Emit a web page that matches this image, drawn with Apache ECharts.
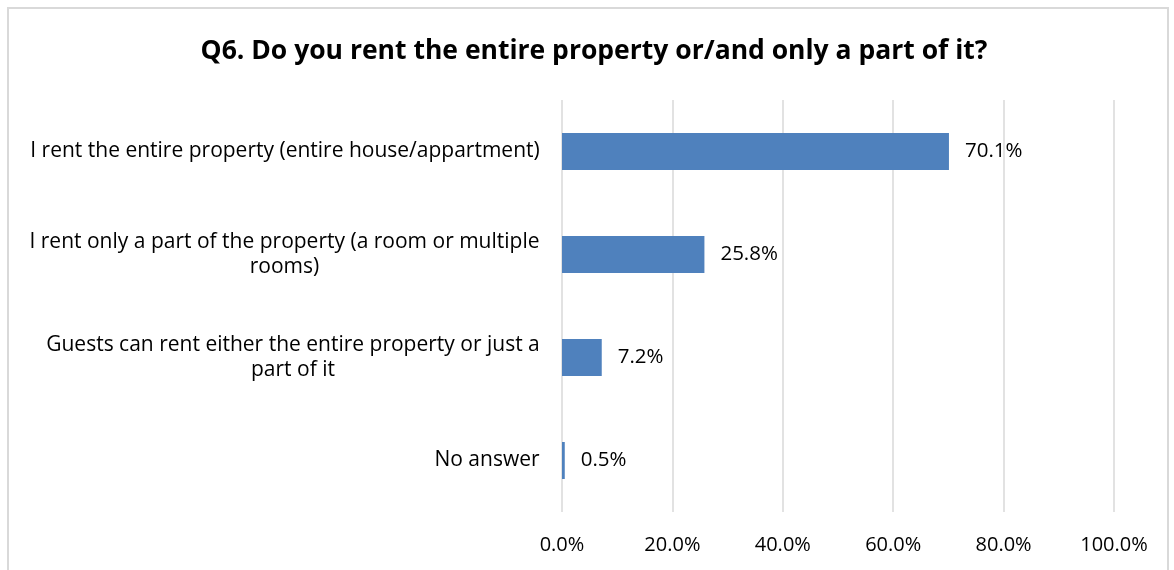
<!DOCTYPE html>
<html>
<head>
<meta charset="utf-8">
<script src="https://cdn.jsdelivr.net/npm/echarts@6/dist/echarts.min.js"></script>
<style>
  html, body { margin: 0; padding: 0; background: #ffffff; }
  #frame { position: absolute; left: 7px; top: 7px; width: 1158px; height: 600px; border: 2px solid #d9d9d9; }
  #chart { position: absolute; left: 0; top: 0; width: 1174px; height: 570px; }
</style>
</head>
<body>
<div id="frame"></div>
<div id="chart"></div>
<script>
// Survey answers (multi-line labels are broken with \n)
const categories = [
  'I rent the entire property (entire house/appartment)',
  'I rent only a part of the property (a room or multiple\nrooms)',
  'Guests can rent either the entire property or just a\npart of it',
  'No answer'
];
const shares = [70.1, 25.8, 7.2, 0.5];
const axisTicks = [0, 20, 40, 60, 80, 100];
const titleText = 'Q6. Do you rent the entire property or/and only a part of it?';

const FONT = '"Open Sans", "Noto Sans", sans-serif';
const CAT_SIZE = 21;
const VALUE_SIZE = 20.5;
const TICK_SIZE = 20;

// measure text so multi-line category labels can be centred line by line
const ctx = document.createElement('canvas').getContext('2d');
ctx.font = CAT_SIZE + 'px "Open Sans"';
const rich = {};
categories.forEach((c, i) => {
  const w = Math.max(...c.split('\n').map(l => ctx.measureText(l).width));
  rich['c' + i] = { width: Math.ceil(w), align: 'center', fontSize: CAT_SIZE, fontFamily: FONT, color: '#000', lineHeight: 25 };
});

const chart = echarts.init(document.getElementById('chart'), null, { renderer: 'canvas' });
chart.setOption({
  animation: false,
  title: {
    text: titleText,
    left: 594,
    textAlign: 'center',
    top: 38,
    padding: 0,
    textStyle: { fontFamily: FONT, fontWeight: 'bold', fontSize: 26.5, color: '#000' }
  },
  grid: { left: 562, right: 60, top: 100, bottom: 58, containLabel: false },
  xAxis: {
    type: 'value',
    min: axisTicks[0],
    max: axisTicks[axisTicks.length - 1],
    interval: axisTicks[1] - axisTicks[0],
    axisLine: { show: false },
    axisTick: { show: false },
    splitLine: { show: true, lineStyle: { color: '#d9d9d9', width: 1.5 } },
    axisLabel: {
      formatter: v => v.toFixed(1) + '%',
      fontFamily: FONT, fontSize: TICK_SIZE, color: '#000', margin: 23
    }
  },
  yAxis: {
    type: 'category',
    inverse: true,
    data: categories,
    axisLine: { show: false },
    axisTick: { show: false },
    axisLabel: {
      margin: 22,
      align: 'right',
      fontFamily: FONT, fontSize: CAT_SIZE, color: '#000',
      formatter: (v, i) => v.split('\n').map(l => '{c' + i + '|' + l + '}').join('\n'),
      rich: rich
    }
  },
  series: [{
    type: 'bar',
    data: shares,
    barWidth: 37,
    itemStyle: { color: '#4f81bd' },
    label: {
      show: true,
      position: 'right',
      distance: 16,
      formatter: p => p.value.toFixed(1) + '%',
      fontFamily: FONT, fontSize: VALUE_SIZE, color: '#000'
    }
  }]
});
</script>
</body>
</html>
